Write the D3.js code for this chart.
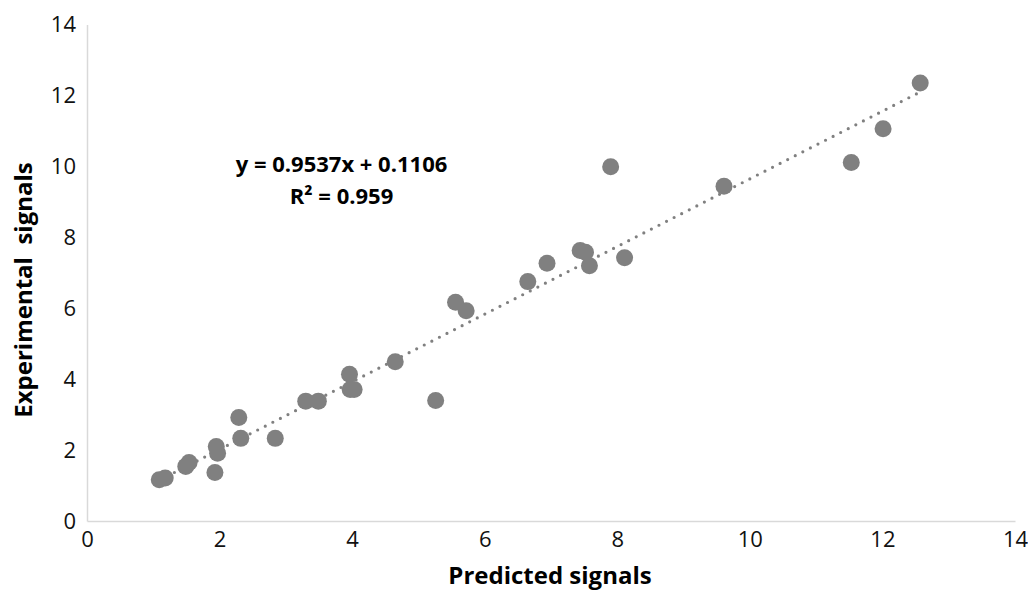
<!DOCTYPE html>
<html>
<head>
<meta charset="utf-8">
<script src="https://cdn.jsdelivr.net/npm/d3@7"></script>
<style>
  html, body { margin: 0; padding: 0; background: #fff; }
  svg { display: block; font-family: "Open Sans", sans-serif; }
</style>
</head>
<body>
<svg id="chart" width="1028" height="592"></svg>
<script>
// Predicted vs experimental signals
const predicted = [1.09, 1.18, 1.49, 1.54, 1.93, 1.95, 1.97, 2.29, 2.32, 2.84,
  3.30, 3.49, 3.96, 3.97, 4.03, 4.65, 5.26, 5.56, 5.72, 6.65,
  6.94, 7.44, 7.52, 7.58, 7.90, 8.11, 9.61, 11.53, 12.01, 12.57];
const experimental = [1.16, 1.21, 1.54, 1.65, 1.37, 2.10, 1.91, 2.92, 2.33, 2.33,
  3.38, 3.38, 4.14, 3.71, 3.71, 4.49, 3.40, 6.17, 5.93, 6.75,
  7.27, 7.63, 7.58, 7.20, 9.99, 7.42, 9.44, 10.11, 11.06, 12.35];
const xTicks = [0, 2, 4, 6, 8, 10, 12, 14];
const yTicks = [0, 2, 4, 6, 8, 10, 12, 14];
const slope = 0.9537, intercept = 0.1106, r2 = 0.959;

const svg = d3.select("#chart");
const W = 1028, H = 592;
const margin = { left: 87, right: 13, top: 24.5, bottom: 71 };

const x = d3.scaleLinear().domain([0, 14]).range([margin.left, W - margin.right]);
const y = d3.scaleLinear().domain([0, 14]).range([H - margin.bottom, margin.top]);

// axes
const xAxis = svg.append("g")
  .attr("transform", `translate(0,${y(0)})`)
  .call(d3.axisBottom(x).tickValues(xTicks).tickSize(0).tickPadding(10).tickFormat(d3.format("d")));
const yAxis = svg.append("g")
  .attr("transform", `translate(${x(0)},0)`)
  .call(d3.axisLeft(y).tickValues(yTicks).tickSize(0).tickPadding(11).tickFormat(d3.format("d")));
[xAxis, yAxis].forEach(g => {
  g.select(".domain").attr("stroke", "#d9d9d9").attr("stroke-width", 1.5);
  g.selectAll("text").attr("font-size", 22).attr("fill", "#111")
    .attr("font-family", "'Open Sans', sans-serif");
});

// dotted linear trendline over the range of predicted values
const xs = d3.extent(predicted);
svg.append("line")
  .attr("x1", x(xs[0])).attr("y1", y(slope * xs[0] + intercept))
  .attr("x2", x(xs[1])).attr("y2", y(slope * xs[1] + intercept))
  .attr("stroke", "#808080").attr("stroke-width", 3.2)
  .attr("stroke-linecap", "round").attr("stroke-dasharray", "0,8.5");

// points
svg.append("g").selectAll("circle")
  .data(predicted.map((p, i) => [p, experimental[i]]))
  .join("circle")
  .attr("cx", d => x(d[0])).attr("cy", d => y(d[1]))
  .attr("r", 8.5).attr("fill", "#808080");

// regression equation
const eq = svg.append("text").attr("text-anchor", "middle")
  .attr("font-weight", "bold").attr("font-size", 22).attr("fill", "#000");
eq.append("tspan").attr("x", 341.5).attr("y", 171.5)
  .text(`y = ${slope}x + ${intercept}`);
eq.append("tspan").attr("x", 341.5).attr("y", 203.5)
  .text(`R² = ${r2}`);

// axis titles
svg.append("text").attr("x", 550).attr("y", 584)
  .attr("text-anchor", "middle").attr("font-weight", "bold").attr("font-size", 24)
  .attr("fill", "#000").text("Predicted signals");
svg.append("text").attr("transform", "translate(32,290) rotate(-90)")
  .attr("text-anchor", "middle").attr("font-weight", "bold").attr("font-size", 24)
  .attr("fill", "#000").style("white-space", "pre")
  .text("Experimental  signals");
</script>
</body>
</html>
